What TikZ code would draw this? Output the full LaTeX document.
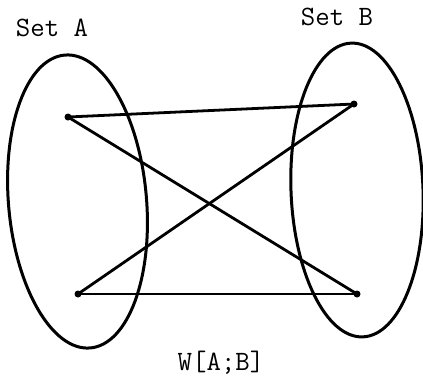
\documentclass[tikz,border=0pt]{standalone}
\begin{document}
\begin{tikzpicture}[x=1pt,y=-1pt,
  setline/.style={line width=3pt},
  edge/.style={line width=2.8pt},
  dot/.style={circle,fill=black,inner sep=0pt,minimum size=7pt},
  lbl/.style={font=\ttfamily\fontsize{28}{28}\selectfont,inner sep=0pt}]
\useasboundingbox (0,0) rectangle (423,381);
% sets
\draw[setline,shift={(77.5,201.5)},rotate=5] (0,0) ellipse [x radius=69pt, y radius=147pt];
\draw[setline,shift={(357,190)},rotate=2.3] (0,0) ellipse [x radius=66pt, y radius=147pt];
% points
\node[dot] (a1) at (68,117) {};
\node[dot] (a2) at (78,294) {};
\node[dot] (b1) at (354,104) {};
\node[dot] (b2) at (357,294) {};
% edges
\draw[edge] (a1.center) -- (b1.center);
\draw[edge] (a2.center) -- (b2.center);
\draw[edge] (a1.center) -- (b2.center);
\draw[edge] (a2.center) -- (b1.center);
% labels
\node[lbl] (la) at (52,28) {Set A};
\node[lbl] (lb) at (337,17) {Set B};
\node[lbl] (lw) at (221,363) {W[A;B]};
\end{tikzpicture}
\end{document}
